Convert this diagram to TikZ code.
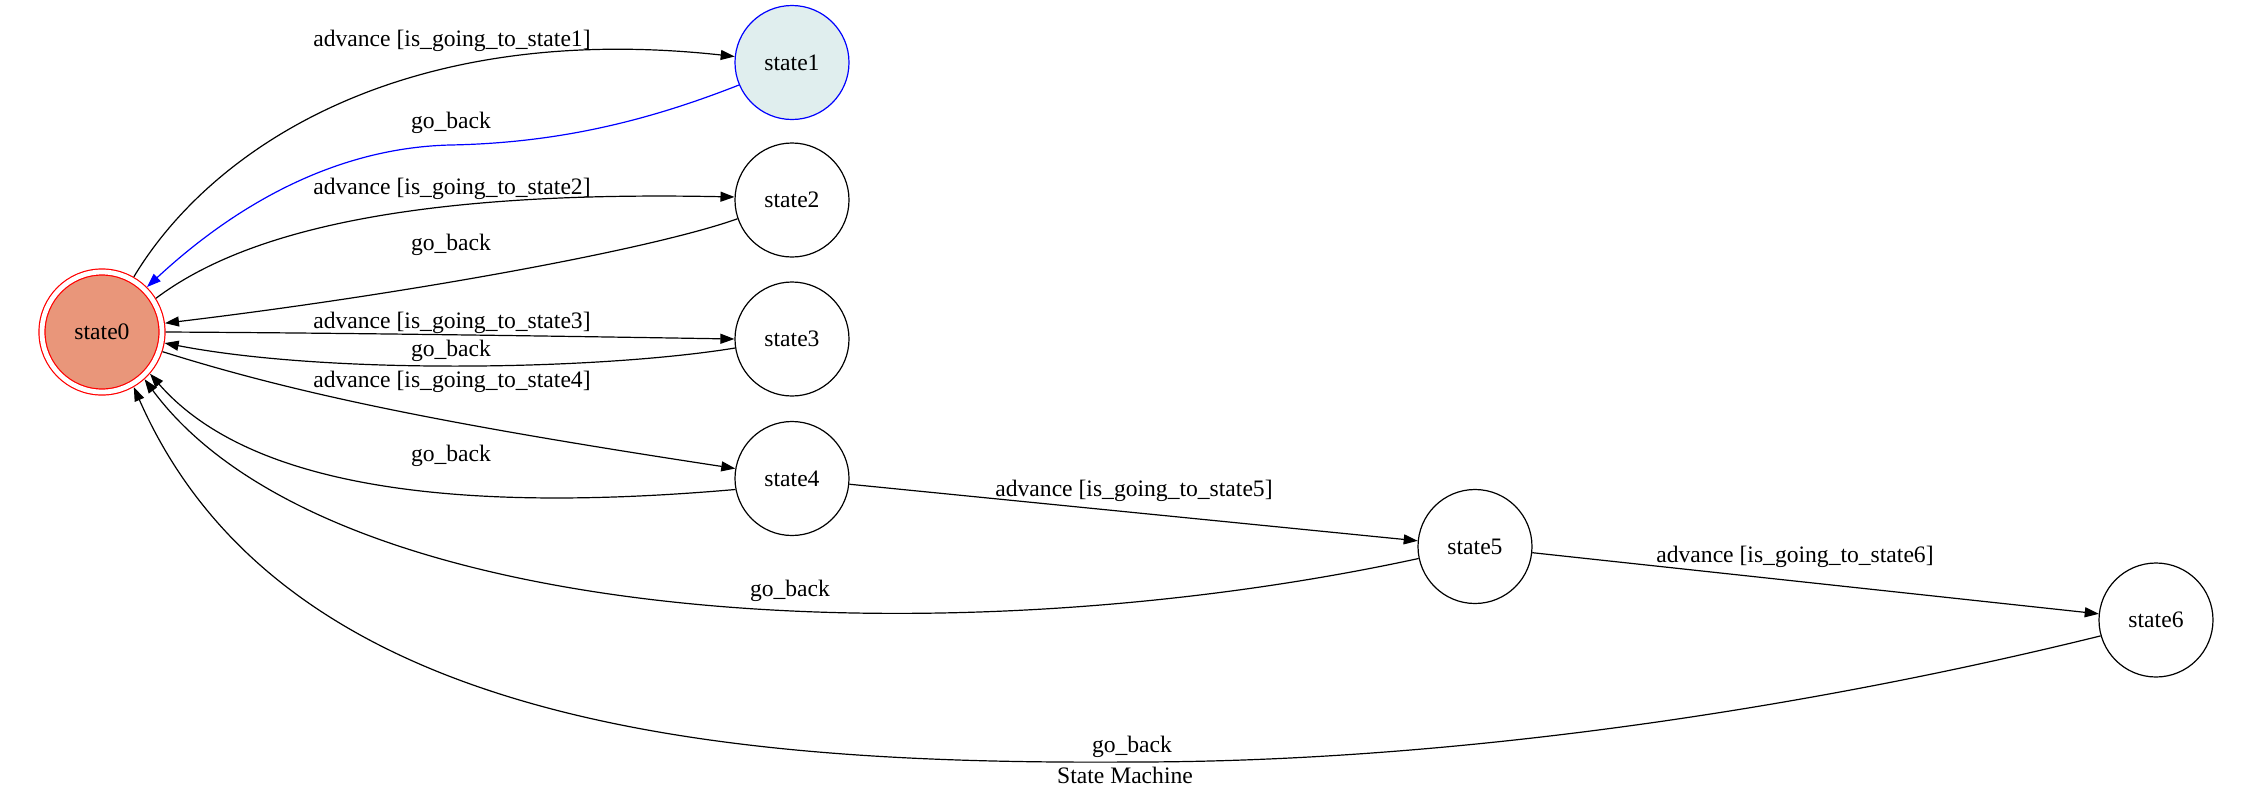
\documentclass[tikz,border=0pt]{standalone}
\usepackage{fontspec}
\setmainfont{Liberation Serif}
\usetikzlibrary{arrows.meta}
\definecolor{salmonfill}{RGB}{233,150,122}
\definecolor{lightfill}{RGB}{224,238,238}
\begin{document}
\begin{tikzpicture}[x=0.5pt,y=-0.5pt,
  every node/.style={font=\fontsize{11.8}{14}\selectfont},
  state/.style={circle,draw=black,line width=0.6pt,minimum size=57pt,inner sep=0pt,outer sep=0.3pt},
  initial/.style={circle,draw=red,fill=salmonfill,line width=0.6pt,double=white,double distance=2.4pt,
    minimum size=60pt,inner sep=0pt,outer sep=1.8pt},
  edge/.style={line width=0.6pt,-{Triangle[length=7pt,width=5pt]}},
  lbl/.style={anchor=base,inner sep=0pt}]
\useasboundingbox (0,0) rectangle (2251,799);

% states
\node[initial] (s0) at (102,332) {state0};
\node[state,draw=blue,fill=lightfill] (s1) at (792,62.5) {state1};
\node[state] (s2) at (792,200) {state2};
\node[state] (s3) at (792,339) {state3};
\node[state] (s4) at (792,478.5) {state4};
\node[state] (s5) at (1475,546.5) {state5};
\node[state] (s6) at (2156,620) {state6};

% transitions
\draw[edge] (s0.60) .. controls (210,150) and (400,20) .. (s1.174);
\draw[edge,draw=blue] (s1.203) .. controls (650,120) and (560,143) .. (450,145)
  .. controls (330,148) and (230,210) .. (s0.45);
\draw[edge] (s0.32) .. controls (240,235) and (400,190) .. (s2.177);
\draw[edge] (s2.199) .. controls (650,250) and (400,295) .. (s0.8);
\draw[edge] (s0.0) .. controls (350,333) and (550,336) .. (s3.180);
\draw[edge] (s3.189) .. controls (600,370) and (330,375) .. (s0.-10);
\draw[edge] (s0.-18) .. controls (300,395) and (450,425) .. (s4.170);
\draw[edge] (s4.191) .. controls (500,510) and (260,500) .. (s0.-41);
\draw[edge] (s4) -- (s5);
\draw[edge] (s5.192) .. controls (950,660) and (330,630) .. (s0.-48);
\draw[edge] (s5) -- (s6);
\draw[edge] (s6.196) .. controls (1800,710) and (1450,762) .. (1133,762)
  .. controls (700,765) and (280,720) .. (s0.-60);

% transition labels
\node[lbl] (l1) at (452,46) {advance [is\_going\_to\_state1]};
\node[lbl] (l2) at (451,128) {go\_back};
\node[lbl] (l3) at (452,194) {advance [is\_going\_to\_state2]};
\node[lbl] (l4) at (451,250) {go\_back};
\node[lbl] (l5) at (452,328) {advance [is\_going\_to\_state3]};
\node[lbl] (l6) at (451,356) {go\_back};
\node[lbl] (l7) at (452,387) {advance [is\_going\_to\_state4]};
\node[lbl] (l8) at (451,461) {go\_back};
\node[lbl] (l9) at (1134,496) {advance [is\_going\_to\_state5]};
\node[lbl] (l10) at (790,596) {go\_back};
\node[lbl] (l11) at (1795,562) {advance [is\_going\_to\_state6]};
\node[lbl] (l12) at (1132,752) {go\_back};

% caption
\node[lbl] (title) at (1125,783) {State Machine};
\end{tikzpicture}
\end{document}
